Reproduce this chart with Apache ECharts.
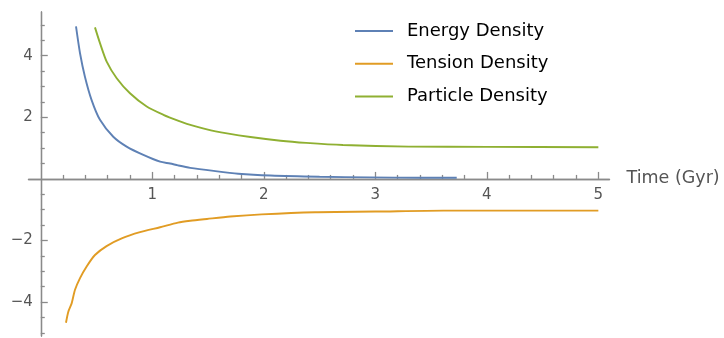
<!DOCTYPE html>
<html>
<head>
<meta charset="utf-8">
<script src="https://cdn.jsdelivr.net/npm/echarts@6/dist/echarts.min.js"></script>
<style>
html,body{margin:0;padding:0;background:#fff;}
#chart{width:724px;height:338px;}
</style>
</head>
<body>
<div id="chart"></div>
<script>
// ---- data ----
const seriesNames = ['Energy Density', 'Tension Density', 'Particle Density'];

const energyTime   = [0.316, 0.352, 0.396, 0.456, 0.531, 0.65, 0.77, 0.92, 1.07, 1.16, 1.23, 1.34, 1.55, 1.77, 2.06, 2.5, 2.95, 3.4, 3.73];
const energyValues = [4.95, 4.08, 3.32, 2.56, 1.92, 1.37, 1.05, 0.78, 0.56, 0.50, 0.44, 0.36, 0.26, 0.17, 0.11, 0.07, 0.05, 0.04, 0.04];

const tensionTime   = [0.226, 0.247, 0.277, 0.307, 0.352, 0.41, 0.486, 0.59, 0.726, 0.89, 1.07, 1.23, 1.34, 1.49, 1.70, 1.98, 2.46, 3.0, 3.61, 5.0];
const tensionValues = [-4.67, -4.31, -4.04, -3.60, -3.22, -2.85, -2.47, -2.18, -1.93, -1.73, -1.57, -1.42, -1.36, -1.30, -1.22, -1.15, -1.08, -1.06, -1.03, -1.03];

const particleTime   = [0.486, 0.531, 0.591, 0.681, 0.80, 0.95, 1.10, 1.23, 1.31, 1.49, 1.67, 1.88, 2.15, 2.38, 2.71, 3.30, 4.0, 5.0];
const particleValues = [4.92, 4.41, 3.81, 3.27, 2.78, 2.35, 2.08, 1.89, 1.79, 1.61, 1.48, 1.36, 1.24, 1.17, 1.10, 1.05, 1.04, 1.03];

const xMajorTicks = [1, 2, 3, 4, 5];
const xMinorTicks = [0.2,0.4,0.6,0.8,1.2,1.4,1.6,1.8,2.2,2.4,2.6,2.8,3.2,3.4,3.6,3.8,4.2,4.4,4.6,4.8];
const yMajorTicks = [-4, -2, 2, 4];
const yMinorTicks = [-5,-4.5,-3.5,-3,-2.5,-1.5,-1,-0.5,0.5,1,1.5,2.5,3,3.5,4.5,5];
const xAxisTitle = 'Time (Gyr)';

// ---- chart ----
const colors = ['#5E81B5', '#E19C24', '#8FB032'];
const axisColor = '#8a8a8a';
const labelColor = '#555';
const fontFamily = 'DejaVu Sans, Verdana, sans-serif';
const GRID = {left: 28.5, right: 114.5, top: 12, bottom: 2};
const W = 724, H = 338;

function pairs(t, v) { return t.map((x, i) => [x, v[i]]); }

const chart = echarts.init(document.getElementById('chart'), null, {renderer: 'canvas'});

const tickStyle = {color: axisColor, width: 1.3};
const xBase = {
  type: 'value', min: -0.11, max: 5.1, position: 'bottom', gridIndex: 0,
  axisLine: {show: true, onZero: true, onZeroAxisIndex: 0, lineStyle: {color: axisColor, width: 1.3}},
  axisLabel: {show: false},
  splitLine: {show: false}
};
const yBase = {
  type: 'value', min: -5.1, max: 5.42, position: 'left', gridIndex: 0,
  axisLine: {show: true, onZero: true, onZeroAxisIndex: 0, lineStyle: {color: axisColor, width: 1.3}},
  axisLabel: {show: false},
  splitLine: {show: false}
};

function lineSeries(i, t, v) {
  return {name: seriesNames[i], type: 'line', xAxisIndex: 0, yAxisIndex: 0, data: pairs(t, v),
    symbol: 'none', smooth: 0.25,
    lineStyle: {color: colors[i], width: 1.9}, itemStyle: {color: colors[i]}};
}

function buildOption(xLabelOffset, yLabelOffset) {
  return {
    animation: false,
    backgroundColor: '#fff',
    grid: Object.assign({containLabel: false, outerBoundsMode: 'none'}, GRID),
    xAxis: [
      Object.assign({}, xBase, {
        name: xAxisTitle, nameLocation: 'end', nameGap: 17,
        nameTextStyle: {color: labelColor, fontSize: 17.5, fontFamily: fontFamily},
        axisTick: {show: true, inside: true, length: 7, customValues: xMajorTicks, lineStyle: tickStyle}
      }),
      Object.assign({}, xBase, {
        axisTick: {show: true, inside: true, length: 4, customValues: xMinorTicks, lineStyle: tickStyle}
      }),
      Object.assign({}, xBase, {
        axisLine: {show: false, onZero: false},
        axisTick: {show: false},
        offset: xLabelOffset,
        axisLabel: {show: true, customValues: xMajorTicks, margin: 9, color: labelColor, fontSize: 15, fontFamily: fontFamily}
      })
    ],
    yAxis: [
      Object.assign({}, yBase, {
        axisTick: {show: true, inside: true, length: 7, customValues: yMajorTicks, lineStyle: tickStyle}
      }),
      Object.assign({}, yBase, {
        axisTick: {show: true, inside: true, length: 4, customValues: yMinorTicks, lineStyle: tickStyle}
      }),
      Object.assign({}, yBase, {
        axisLine: {show: false, onZero: false},
        axisTick: {show: false},
        offset: yLabelOffset,
        axisLabel: {show: true, customValues: yMajorTicks, margin: 8, color: labelColor, fontSize: 15, fontFamily: fontFamily,
          formatter: v => (v < 0 ? '\u2212' + Math.abs(v) : String(v))}
      })
    ],
    legend: {
      orient: 'vertical', left: 350, top: 17,
      itemWidth: 38, itemHeight: 2, itemGap: 14.7,
      icon: 'rect',
      data: seriesNames,
      textStyle: {color: '#000', fontSize: 18, fontFamily: fontFamily, padding: [0, 0, 0, 9]}
    },
    series: [
      lineSeries(0, energyTime, energyValues),
      lineSeries(1, tensionTime, tensionValues),
      lineSeries(2, particleTime, particleValues)
    ]
  };
}

chart.setOption(buildOption(0, 0));
// place the label-only axes on the zero lines (ECharts keeps labels at grid edge otherwise)
const origin = chart.convertToPixel({xAxisIndex: 0, yAxisIndex: 0}, [0, 0]);
const xOff = -((H - GRID.bottom) - origin[1]);
const yOff = -(origin[0] - GRID.left);
chart.setOption(buildOption(xOff, yOff), true);
</script>
</body>
</html>
